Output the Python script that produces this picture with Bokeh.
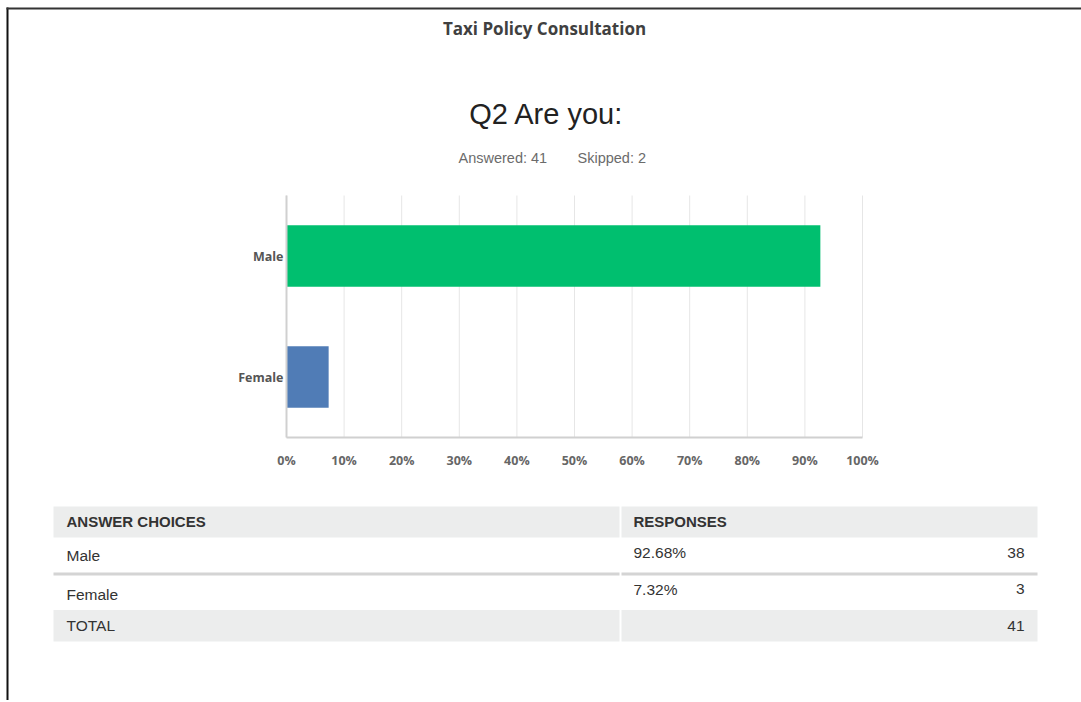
from bokeh.plotting import figure
from bokeh.models import (Range1d, LinearAxis, FixedTicker, SingleIntervalTicker,
                          PrintfTickFormatter)
from bokeh.core.properties import value
from bokeh.embed import file_html
from bokeh.resources import INLINE

# ---------------- data ----------------
survey_title = "Taxi Policy Consultation"
question = "Q2 Are you:"
answered = 41
skipped = 2
choices = ["Male", "Female"]
counts = [38, 3]
bar_colors = ["#00BF6F", "#507CB6"]
x_ticks = [0, 10, 20, 30, 40, 50, 60, 70, 80, 90, 100]
table_headers = ["ANSWER CHOICES", "RESPONSES"]
total_label = "TOTAL"

total = sum(counts)
percents = [100.0 * c / total for c in counts]
pct_text = ["%.2f%%" % v for v in percents]
ypos = [len(choices) - 1 - i for i in range(len(choices))]   # top to bottom

# ---------------- layout constants (page pixels) ----------------
W, H = 1081, 700
FL, FR, FT, FB = 286, 862, 195, 437     # bar chart plotting area (page px)
PX_PER_PCT = (FR - FL) / 100.0
CAT_LO, CAT_HI = -0.5, len(choices) - 0.5
PX_PER_CAT = (FB - FT) / (CAT_HI - CAT_LO)

p = figure(width=W, height=H, output_backend="svg", toolbar_location=None,
           x_range=Range1d(0, W), y_range=Range1d(H, 0),
           x_axis_location=None, y_axis_location=None, title=None,
           min_border=0, background_fill_color="white", border_fill_color="white")
p.outline_line_color = None
p.grid.visible = False

# scales for the bar chart, laid onto the page coordinates
p.extra_x_ranges = {"pct": Range1d(-FL / PX_PER_PCT, (W - FL) / PX_PER_PCT)}
p.extra_y_ranges = {"cat": Range1d(CAT_LO - (H - FB) / PX_PER_CAT,
                                   CAT_HI + FT / PX_PER_CAT)}


def txt(xs, ys, texts, size, color="#333333", font="Liberation Sans",
        style="normal", align="left"):
    p.text(x=xs, y=ys, text=texts, text_font=value(font), text_font_size=size,
           text_color=color, text_font_style=style, text_align=align,
           text_baseline="middle")


# page border (left & top)
p.quad(left=[6, 6], right=[8, W], top=[7, 7], bottom=[H, 9],
       fill_color=["#111111", "#333333"], line_color=None)

# titles
txt([544], [28], [survey_title], "17px", "#404040", font="Open Sans", style="bold",
    align="center")
txt([546], [113], [question], "29px", "#222222", align="center")
txt([458, 577], [157, 157],
    ["Answered: %d" % answered, "Skipped: %d" % skipped], "14.5px", "#6B6B6B")

# ---------------- bar chart ----------------
p.segment(x0=x_ticks, x1=x_ticks, y0=[FT] * len(x_ticks), y1=[FB] * len(x_ticks),
          line_color="#E6E6E6", line_width=1, x_range_name="pct")
p.hbar(y=ypos, right=percents, left=0, height=0.51, fill_color=bar_colors,
       line_color=None, x_range_name="pct", y_range_name="cat")

xa = LinearAxis(x_range_name="pct", fixed_location=FB, bounds=(0, 100))
xa.ticker = SingleIntervalTicker(interval=10)
xa.formatter = PrintfTickFormatter(format="%d%%")
xa.axis_line_color = "#D0D0D0"
xa.axis_line_width = 2
xa.major_tick_line_color = None
xa.minor_tick_line_color = None
xa.major_tick_out = 0
xa.major_tick_in = 0
xa.major_label_standoff = 10
xa.major_label_text_font = "Open Sans"
xa.major_label_text_font_size = "12.5px"
xa.major_label_text_font_style = "bold"
xa.major_label_text_color = "#666666"
p.add_layout(xa, "below")

ya = LinearAxis(y_range_name="cat", fixed_location=FL, bounds=(CAT_LO, CAT_HI))
ya.ticker = FixedTicker(ticks=ypos)
ya.major_label_overrides = {y: c for y, c in zip(ypos, choices)}
ya.axis_line_color = "#D0D0D0"
ya.axis_line_width = 2
ya.major_tick_line_color = None
ya.minor_tick_line_color = None
ya.major_tick_out = 0
ya.major_tick_in = 0
ya.major_label_standoff = 3
ya.major_label_text_font = "Open Sans"
ya.major_label_text_font_size = "12.5px"
ya.major_label_text_font_style = "bold"
ya.major_label_text_color = "#555555"
p.add_layout(ya, "left")

# ---------------- table ----------------
T_L, T_M1, T_M2, T_R = 53, 619, 621, 1037
HEAD = "#ECEDED"
p.quad(left=[T_L, T_M2, T_L, T_M2], right=[T_M1, T_R, T_M1, T_R],
       top=[506, 506, 609.5, 609.5], bottom=[537, 537, 641, 641],
       fill_color=HEAD, line_color=None)
p.quad(left=[T_L, T_M2], right=[T_M1, T_R], top=[572, 572], bottom=[575, 575],
       fill_color="#D4D4D4", line_color=None)

txt([66, 633], [521, 521], table_headers, "15px", "#333333", style="bold")
row_name_y = [555, 593.5]
row_val_y = [552, 588.5]
txt([66] * len(choices), row_name_y, choices, "15.5px", "#333333")
txt([633] * len(choices), row_val_y, pct_text, "15.5px", "#333333")
txt([1024] * len(choices), row_val_y, [str(c) for c in counts], "15.5px",
    "#333333", align="right")
txt([66], [625], [total_label], "15.5px", "#333333")
txt([1024], [625], [str(total)], "15.5px", "#333333", align="right")

open("out.html", "w").write(file_html(p, INLINE))
